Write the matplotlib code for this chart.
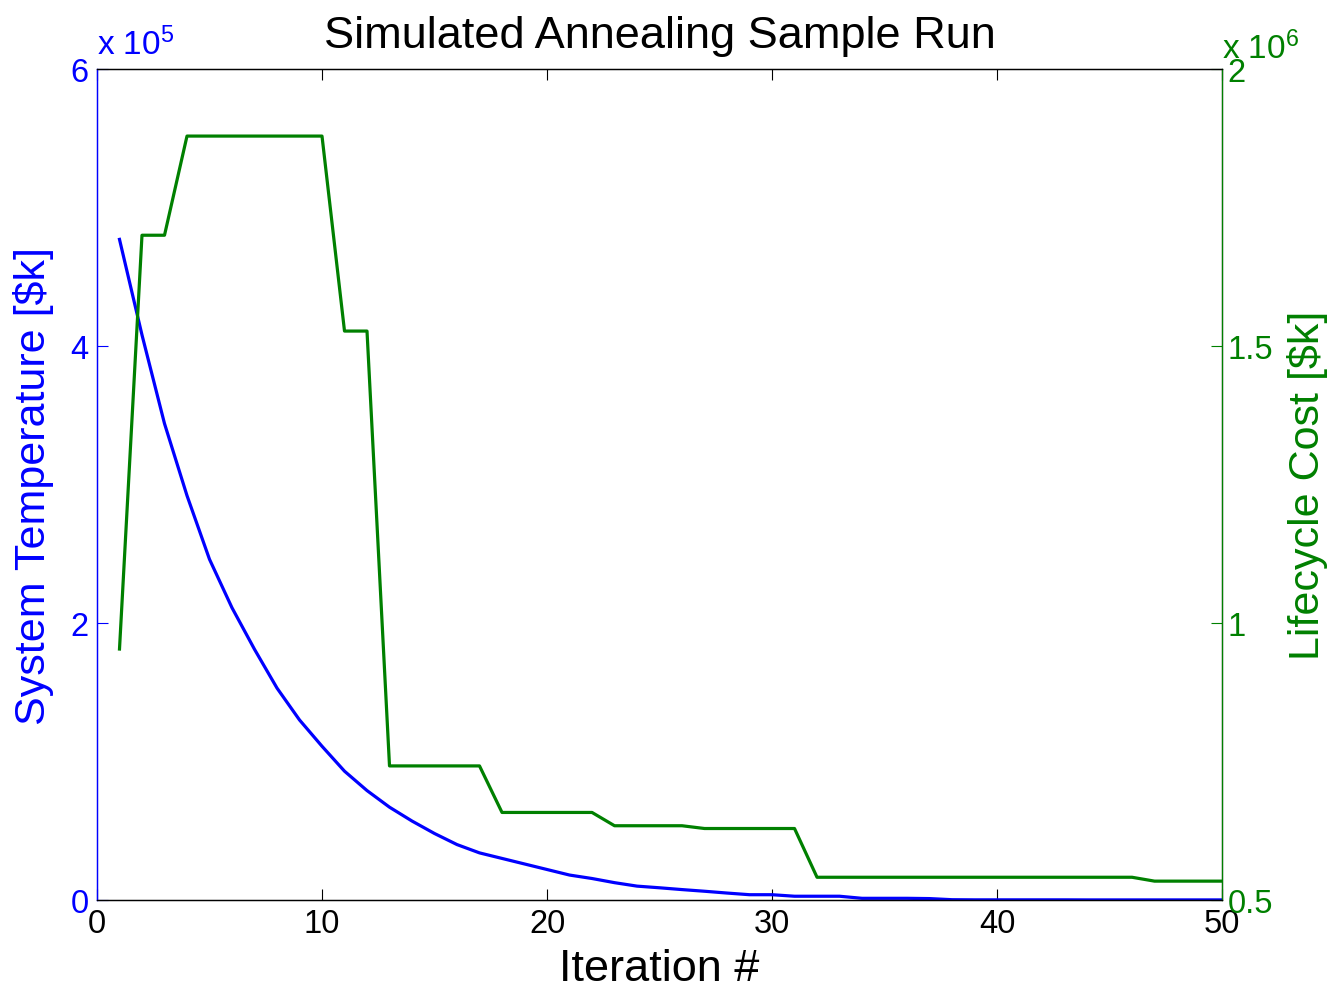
import matplotlib
matplotlib.use("Agg")
import matplotlib.pyplot as plt
from matplotlib.ticker import FuncFormatter
import numpy as np

# -------------------------------------------------
# Data
# -------------------------------------------------

iterations = np.arange(1, 51)

temperature = [
    477000, 408000, 344000, 292000, 246000, 211000, 181000, 153000, 130000, 111000,
    93000, 79000, 67000, 57000, 48000, 40000, 34000, 30000, 26000, 22000,
    18000, 15500, 12500, 10000, 8800, 7500, 6300, 5000, 3800, 3800,
    2700, 2700, 2700, 1200, 1200, 1200, 1000, 200, 100, 100,
    100, 100, 100, 50, 50, 50, 50, 50, 50, 50,
]

lifecycle_cost = [
    953000, 1700000, 1700000, 1879000, 1879000, 1879000, 1879000, 1879000, 1879000, 1879000,
    1527000, 1527000, 742000, 742000, 742000, 742000, 742000, 658000, 658000, 658000,
    658000, 658000, 634000, 634000, 634000, 634000, 629000, 629000, 629000, 629000,
    629000, 541000, 541000, 541000, 541000, 541000, 541000, 541000, 541000, 541000,
    541000, 541000, 541000, 541000, 541000, 541000, 534000, 534000, 534000, 534000,
]

x_ticks = [0, 10, 20, 30, 40, 50]
temp_ticks = [0, 2e5, 4e5, 6e5]
cost_ticks = [0.5e6, 1.0e6, 1.5e6, 2.0e6]

# -------------------------------------------------
# Style (MATLAB-ish)
# -------------------------------------------------

plt.rcParams.update({
    "font.family": ["Liberation Sans", "DejaVu Sans"],
    "mathtext.fontset": "custom",
    "mathtext.rm": "Liberation Sans",
    "mathtext.it": "Liberation Sans",
    "font.size": 23,
})

blue = "#0000ff"
green = "#008000"

fig = plt.figure(figsize=(13.36, 9.95), dpi=100)
ax = fig.add_axes([0.0726, 0.0945, 0.8421, 0.8351])
ax2 = ax.twinx()

ax.plot(iterations, temperature, color=blue, linewidth=2.3)
ax2.plot(iterations, lifecycle_cost, color=green, linewidth=2.3)

# x axis
ax.set_xlim(0, 50)
ax.set_xticks(x_ticks)
ax.set_xlabel("Iteration #", fontsize=32.5, labelpad=6)

# left axis
ax.set_ylim(0, 6e5)
ax.set_yticks(temp_ticks)
ax.yaxis.set_major_formatter(FuncFormatter(lambda v, p: f"{v / 1e5:g}"))
ax.set_ylabel("System Temperature [\\$k]", fontsize=31, color=blue, labelpad=12)

# right axis
ax2.set_ylim(0.5e6, 2e6)
ax2.set_yticks(cost_ticks)
ax2.yaxis.set_major_formatter(FuncFormatter(lambda v, p: f"{v / 1e6:g}"))
ax2.set_ylabel("Lifecycle Cost [\\$k]", fontsize=31, color=green, labelpad=10)

ax.tick_params(axis="x", direction="in", length=8, width=0.8, top=True,
               labelsize=23.5, pad=6, colors="black")
ax.tick_params(axis="y", direction="in", length=8, width=0.8,
               labelsize=23.5, colors=blue, pad=6)
ax2.tick_params(axis="y", direction="in", length=8, width=0.8,
                labelsize=23.5, colors=green, pad=4)

ax.spines["left"].set_color(blue)
ax2.spines["left"].set_color(blue)
ax2.spines["right"].set_color(green)
for sp in ax.spines.values():
    sp.set_linewidth(0.9)
for sp in ax2.spines.values():
    sp.set_linewidth(0.9)

ax.set_title("Simulated Annealing Sample Run", fontsize=32.5, pad=16)

# exponent labels
ax.text(0.0, 1.01, "x 10$^{5}$", transform=ax.transAxes, color=blue,
        fontsize=24, ha="left", va="bottom")
ax2.text(1.0, 1.005, "x 10$^{6}$", transform=ax2.transAxes, color=green,
         fontsize=24, ha="left", va="bottom")

plt.savefig("out.png", dpi=100)
plt.close()
